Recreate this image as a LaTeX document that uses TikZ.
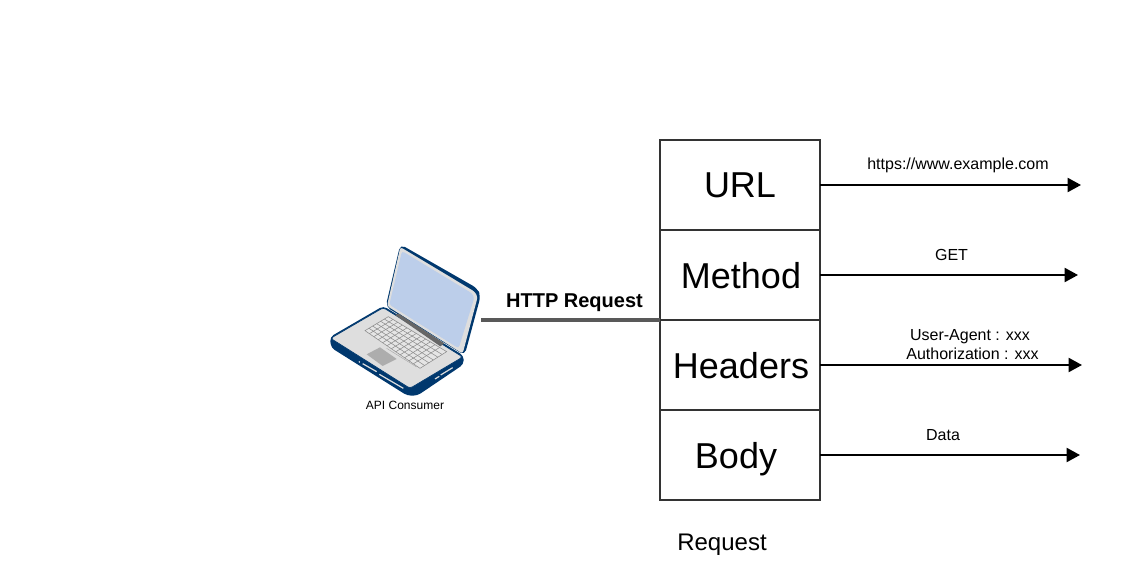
\documentclass[tikz,border=0pt]{standalone}
\usepackage{fontspec}
\setmainfont{Liberation Sans}
\usetikzlibrary{positioning,arrows.meta,calc}
\definecolor{laptopnavy}{RGB}{0,56,110}
\definecolor{laptopgray}{RGB}{222,222,222}
\definecolor{laptopblue}{RGB}{188,206,234}
\tikzset{
	fieldbox/.style={draw=black!80,line width=1.4pt,minimum width=120pt,minimum height=67.5pt,outer sep=0pt,inner sep=0pt,text depth=0pt,font=\fontsize{27}{27}\selectfont},
	fieldarrow/.style={-{Triangle[length=10pt,width=10.5pt]},line width=1.5pt},
	smalltext/.style={inner sep=0pt,font=\fontsize{12}{14}\selectfont},
}
\begin{document}
\begin{tikzpicture}[x=0.75pt,y=-0.75pt]
	\useasboundingbox (0,0) rectangle (1131,574);
	% laptop, in the pixels of a 3x crop
	\begin{scope}[shift={(320,235)},scale=0.3333]
		\fill[laptopnavy,rounded corners=3pt] (30,306) -- (33,338) -- (262,482) -- (292,482) -- (431,388) -- (431,362) -- (190,213) -- cycle;
		\fill[laptopgray,draw=laptopnavy,line width=0.5pt,rounded corners=2pt] (32,310) -- (190,218) -- (428,366) -- (270,460) -- cycle;
		\fill[laptopnavy,rounded corners=4pt] (241,28) -- (472,160) -- (482,183) -- (434,361) -- (197,215) -- cycle;
		\fill[laptopgray,rounded corners=2pt] (241,36) -- (464,170) -- (473,186) -- (428,356) -- (201,213) -- cycle;
		\fill[laptopblue,rounded corners=2pt] (246,48) -- (456,175) -- (463,188) -- (416,340) -- (208,209) -- cycle;
		\fill[black!60] (225,240) -- (236,236) -- (373,325) -- (361,334) -- cycle;
		\fill[white!90!black,draw=black!45,line width=0.4pt] (135,287) -- (205,245) -- (380,350) -- (300,400) -- cycle;
		\foreach \t in {0.17,0.33,0.5,0.67,0.83}{
			\draw[black!45,line width=0.4pt] ($(135,287)!\t!(205,245)$) -- ($(300,400)!\t!(380,350)$);
		}
		\foreach \t in {0.08,0.16,...,0.95}{
			\draw[black!45,line width=0.4pt] ($(135,287)!\t!(300,400)$) -- ($(205,245)!\t!(380,350)$);
		}
		\fill[black!32] (140,358) -- (180,337) -- (230,372) -- (188,393) -- cycle;
		\draw[black!35,line width=0.3pt] (200,340) -- (290,396);
		\fill[white] (118,381) circle (2.5);
		\draw[laptopgray,line width=0.9pt] (128,386) -- (170,410);
		\draw[laptopgray,line width=0.9pt] (178,418) -- (250,460);
		\draw[laptopgray,line width=0.9pt] (362,420) -- (398,398);
		\draw[laptopgray,line width=0.9pt] (345,432) -- (358,424);
	\end{scope}
	\node[inner sep=0pt,font=\fontsize{9}{9}\selectfont] (consumer) at (405,405) {API Consumer};
	\coordinate (laptopout) at (481,320);
	% request fields
	\node[fieldbox] (url) at (740,185) {URL};
	\node[fieldbox,below=0pt of url] (method) {\kern1.5pt Method};
	\node[fieldbox,below=0pt of method] (headers) {\kern1.5pt Headers};
	\node[fieldbox,below=0pt of headers] (body) {Body\kern6pt};
	\node[inner sep=0pt,font=\fontsize{18}{18}\selectfont] (request) at (722,544.5) {Request};
	\draw[black!65,line width=2.6pt] (laptopout) -- (method.south west);
	\node[inner sep=0pt,font=\fontsize{15}{15}\bfseries\selectfont] (httplabel) at (574.5,302.5) {HTTP Request};
	% outgoing arrows
	\coordinate (urlend) at (1081,185);
	\coordinate (methodend) at (1078,275);
	\coordinate (headersend) at (1082,365);
	\coordinate (bodyend) at (1080,455);
	\foreach \n in {url,method,headers,body}{
		\draw[fieldarrow] (\n.east) -- (\n end);
	}
	\node[smalltext] (urltext) at (958,165.5) {https://www.example.com};
	\node[smalltext] (methodtext) at (951.5,255) {GET};
	\node[smalltext] (agenttext) at (970,337) {User-Agent : xxx};
	\node[smalltext] (authtext) at (972.5,354) {Authorization : xxx};
	\node[smalltext] (bodytext) at (943,435) {Data};
\end{tikzpicture}
\end{document}
